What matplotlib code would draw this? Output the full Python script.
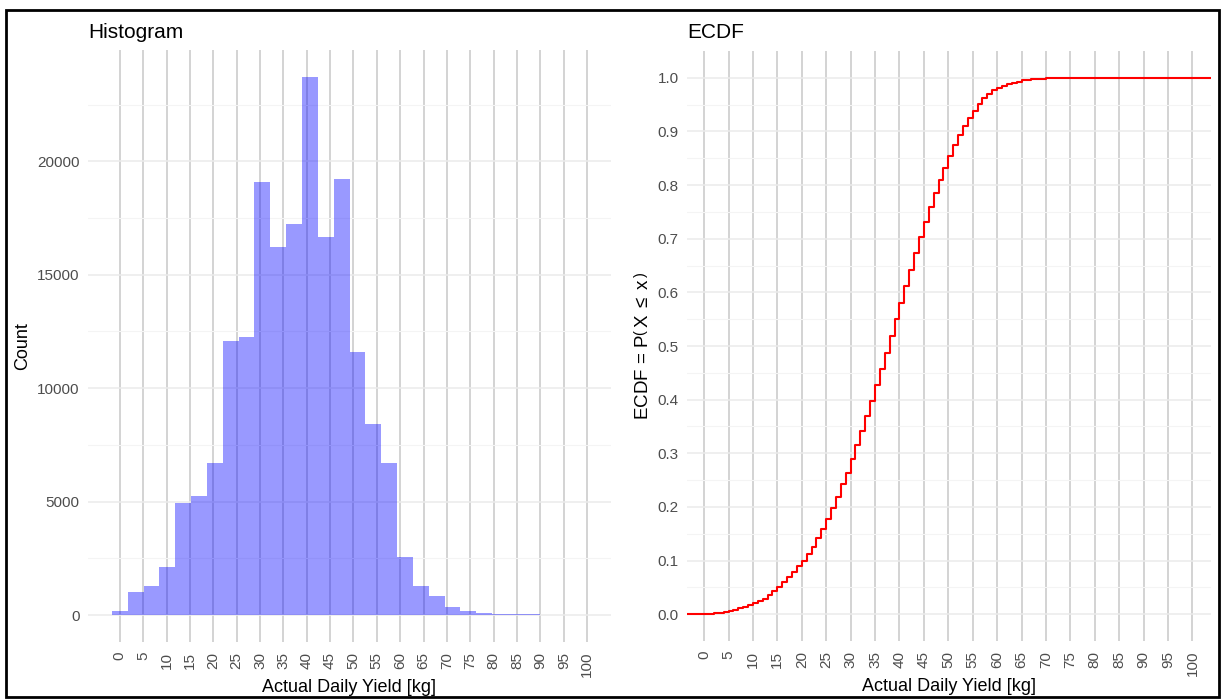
import numpy as np
import matplotlib
matplotlib.use('Agg')
import matplotlib.pyplot as plt
from matplotlib.patches import Rectangle

plt.rcParams['font.family'] = ['Liberation Sans', 'DejaVu Sans']
plt.rcParams['mathtext.fontset'] = 'custom'
plt.rcParams['mathtext.rm'] = 'Liberation Sans'
plt.rcParams['mathtext.it'] = 'Liberation Sans'

# histogram: 30 bins of width ~3.39 kg, first bin centred on 0
bin_width = 3.39
hist_counts = [180, 1030, 1290, 2130, 4930, 5240, 6700, 12060, 12250, 19070,
               16210, 17240, 23720, 16660, 19240, 11590, 8430, 6700, 2560, 1280,
               840, 350, 180, 90, 60, 50, 30, 10, 5, 2]
hist_centers = np.arange(len(hist_counts)) * bin_width

ecdf_x = list(range(0, 73)) + [98]
ecdf_y = [0.0005, 0.001, 0.002, 0.003, 0.004, 0.006, 0.008, 0.011, 0.013, 0.017,
          0.021, 0.025, 0.029, 0.036, 0.043, 0.050, 0.060, 0.069, 0.078, 0.089,
          0.100, 0.112, 0.126, 0.1415, 0.159, 0.177, 0.1985, 0.219, 0.242, 0.264,
          0.289, 0.315, 0.341, 0.369, 0.398, 0.427, 0.457, 0.487, 0.519, 0.551,
          0.580, 0.612, 0.642, 0.673, 0.703, 0.731, 0.759, 0.785, 0.810, 0.832,
          0.854, 0.875, 0.894, 0.910, 0.925, 0.939, 0.952, 0.962, 0.970, 0.977,
          0.981, 0.985, 0.988, 0.991, 0.993, 0.995, 0.996, 0.997, 0.998, 0.9985,
          0.999, 0.9993, 0.9995, 1.0]

x_ticks = list(range(0, 101, 5))

TICK_COL = '#4d4d4d'


def style_axes(ax, yticks, yminor):
    for s in ax.spines.values():
        s.set_visible(False)
    ax.set_axisbelow(True)
    ax.set_xticks(x_ticks)
    ax.set_xticklabels([str(t) for t in x_ticks], rotation=90, va='top', ha='center')
    ax.set_yticks(yticks)
    ax.set_yticks(yminor, minor=True)
    ax.tick_params(axis='both', which='both', length=0, colors=TICK_COL, labelsize=11)
    ax.tick_params(axis='x', pad=7)
    ax.tick_params(axis='y', pad=6)
    ax.grid(True, axis='x', which='major', color='#d3d3d3', lw=1.4)
    ax.grid(True, axis='y', which='major', color='#ebebeb', lw=1.1)
    ax.grid(True, axis='y', which='minor', color='#f4f4f4', lw=0.8)
    ax.set_xlabel('Actual Daily Yield [kg]', fontsize=13, labelpad=1)


fig = plt.figure(figsize=(12.22, 7.0), dpi=100)

# left: histogram
ax1 = fig.add_axes([88 / 1222, 1 - 642 / 700, 523 / 1222, 592 / 700])
ax1.bar(hist_centers, hist_counts, width=bin_width, color='blue', alpha=0.4, lw=0)
ax1.set_xlim(-6.8, 105.1)
ax1.set_ylim(-1186, 24906)
style_axes(ax1, [0, 5000, 10000, 15000, 20000], [2500, 7500, 12500, 17500, 22500])
ax1.set_ylabel('Count', fontsize=13, labelpad=4)
ax1.set_title('Histogram', loc='left', fontsize=15, pad=9)

# right: ECDF
ax2 = fig.add_axes([687 / 1222, 1 - 641 / 700, 524 / 1222, 590 / 700])
xs = [-10] + ecdf_x + [200]
ys = [0.0] + ecdf_y + [1.0]
ax2.step(xs, ys, where='post', color='red', lw=1.5)
ax2.set_xlim(-3.5, 103.8)
ax2.set_ylim(-0.05, 1.05)
style_axes(ax2, np.round(np.arange(0, 1.01, 0.1), 1), np.arange(0.05, 1.0, 0.1))
ax2.set_yticklabels(['%.1f' % v for v in np.arange(0, 1.01, 0.1)])
ax2.set_ylabel(r'ECDF = P$\left(\,\mathrm{X}\;\leq\;\mathrm{x}\,\right)$',
               fontsize=13.5, labelpad=4)
ax2.set_title('ECDF', loc='left', fontsize=15, pad=9)

# frame around the whole figure
fig.patches.append(Rectangle((6 / 1222, 3 / 700), 1213 / 1222, 687 / 700,
                             transform=fig.transFigure, fill=False,
                             edgecolor='black', lw=2))

fig.savefig('out.png', dpi=100)
